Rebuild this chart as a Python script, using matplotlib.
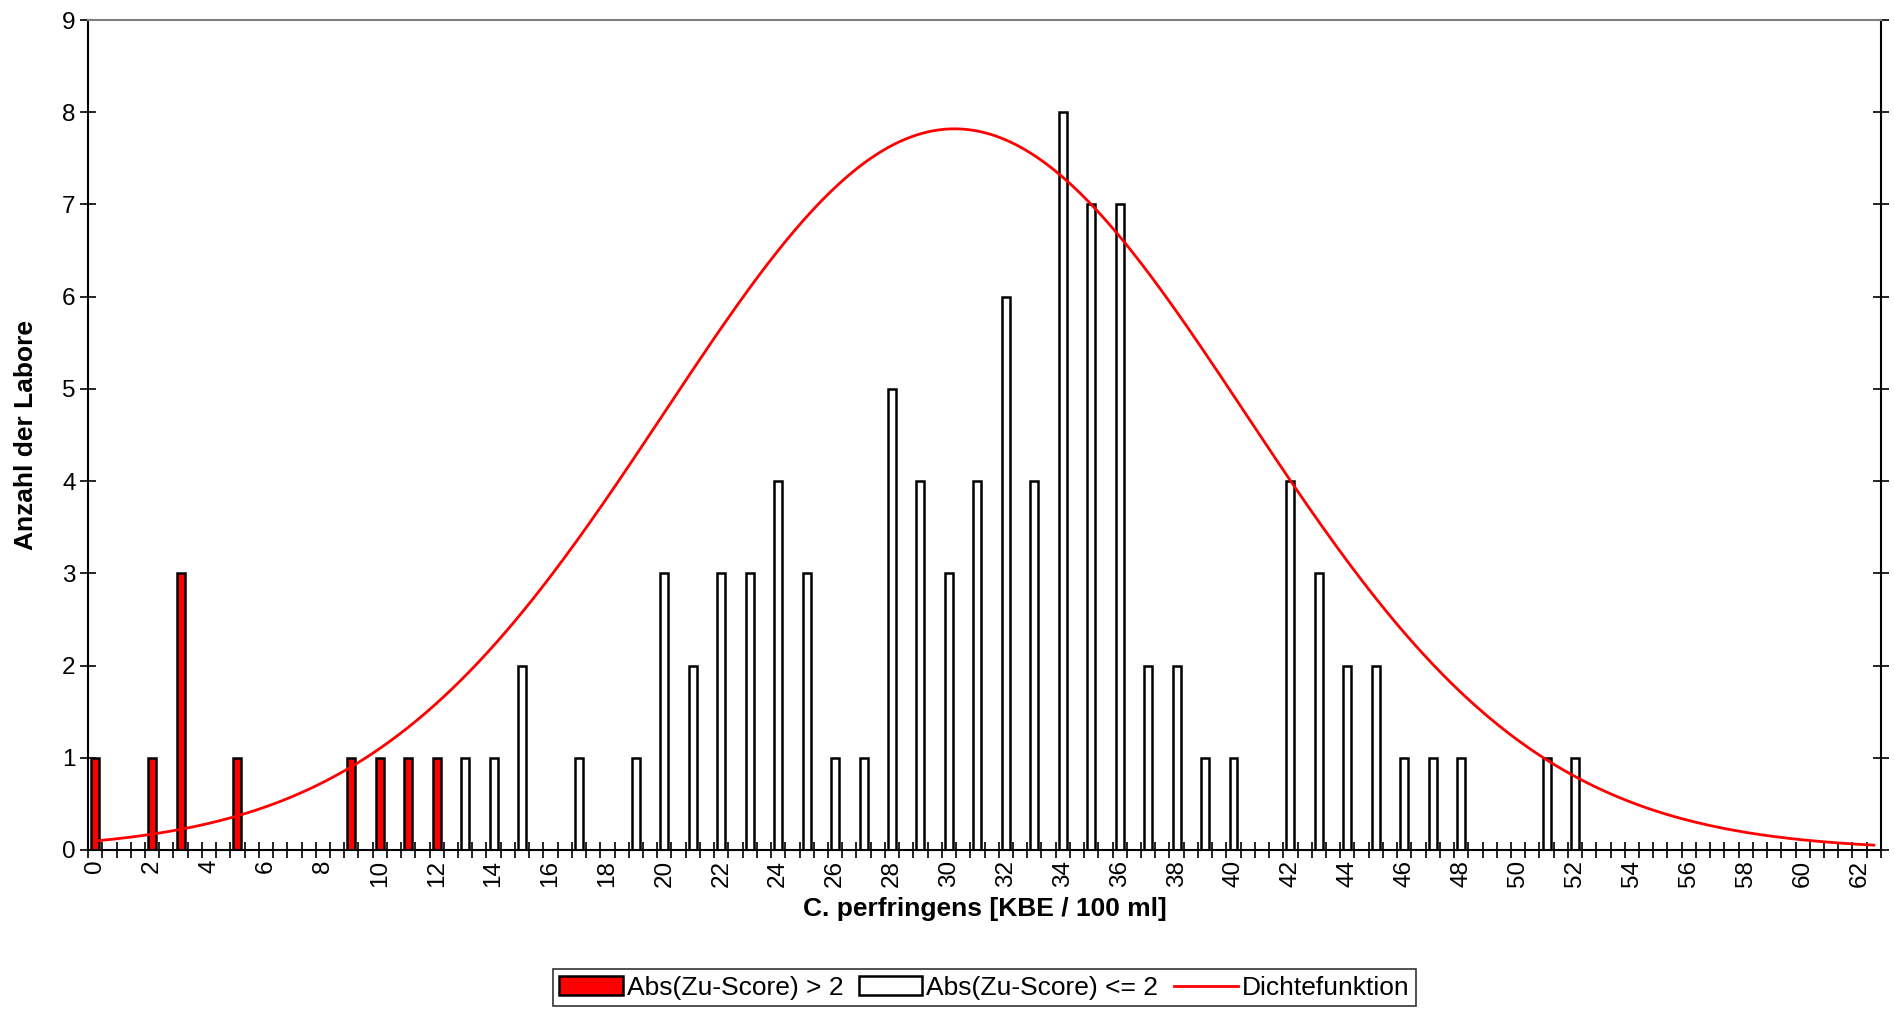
import numpy as np
import matplotlib
matplotlib.use("Agg")
import matplotlib.pyplot as plt
from matplotlib.patches import Patch
from matplotlib.lines import Line2D

plt.rcParams['font.family'] = ['Liberation Sans', 'DejaVu Sans']

# laboratory results, outliers (|z| > 2)
out_x = [0, 2, 3, 5, 9, 10, 11, 12]
out_n = [1, 1, 3, 1, 1, 1, 1, 1]

# laboratory results, |z| <= 2
ok_x = [13, 14, 15, 17, 19, 20, 21, 22, 23, 24, 25, 26, 27, 28, 29, 30, 31,
        32, 33, 34, 35, 36, 37, 38, 39, 40, 42, 43, 44, 45, 46, 47, 48, 51, 52]
ok_n = [1, 1, 2, 1, 1, 3, 2, 3, 3, 4, 3, 1, 1, 5, 4, 3, 4,
        6, 4, 8, 7, 7, 2, 2, 1, 1, 4, 3, 2, 2, 1, 1, 1, 1, 1]

# normal density curve parameters
dens_mean = 30.2
dens_sd = 10.2
dens_peak = 7.82

fs_tick = 17.5
fs = 19

fig = plt.figure(figsize=(18.94, 10.11), dpi=100)
ax = fig.add_axes([0.0465, 0.1593, 0.9466, 0.8209])

bw = 0.28
ax.bar(out_x, out_n, width=bw, color='#ff0000', edgecolor='black', linewidth=1.8, zorder=2)
ax.bar(ok_x, ok_n, width=bw, color='white', edgecolor='black', linewidth=1.8, zorder=2)

xs = np.linspace(0, 62.5, 400)
ys = dens_peak * np.exp(-0.5 * ((xs - dens_mean) / dens_sd) ** 2)
ax.plot(xs, ys, color='#ff0000', linewidth=2.0, zorder=3)

ax.set_xlim(-0.25, 62.75)
ax.set_ylim(0, 9)

ax.set_xticks(np.arange(0, 63, 2))
ax.set_xticklabels([str(v) for v in range(0, 63, 2)], rotation=90, fontsize=fs_tick)
ax.set_xticks(np.arange(-0.25, 62.8, 0.5), minor=True)
ax.tick_params(axis='x', which='major', length=0, pad=7)
ax.tick_params(axis='x', which='minor', direction='inout', length=12, width=1.2)

ax.set_yticks(range(10))
ax.tick_params(axis='y', which='major', direction='inout', length=12, width=1.2,
               labelsize=fs_tick, right=True, pad=3)

for side in ['left', 'bottom', 'right']:
    ax.spines[side].set_color('black')
    ax.spines[side].set_linewidth(1.5)
ax.spines['top'].set_color('#808080')
ax.spines['top'].set_linewidth(1.5)

ax.set_xlabel('C. perfringens [KBE / 100 ml]', fontsize=fs, fontweight='bold', labelpad=7)
ax.set_ylabel('Anzahl der Labore', fontsize=fs, fontweight='bold')
ax.yaxis.set_label_coords(-0.028, 0.5)

handles = [
    Patch(facecolor='#ff0000', edgecolor='black', linewidth=1.8),
    Patch(facecolor='white', edgecolor='black', linewidth=1.8),
    Line2D([0], [0], color='#ff0000', linewidth=2.0),
]
labels = ['Abs(Zu-Score) > 2', 'Abs(Zu-Score) <= 2', 'Dichtefunktion']
leg = fig.legend(handles, labels, loc='lower center', bbox_to_anchor=(0.5197, 0.002), ncol=3,
                 fontsize=fs, frameon=True, fancybox=False, edgecolor='black',
                 handlelength=2.4, handletextpad=0.15, columnspacing=0.6, borderpad=0.25,
                 borderaxespad=0.1)
leg.get_frame().set_linewidth(1.2)

fig.savefig('out.png', dpi=100, facecolor='white')
